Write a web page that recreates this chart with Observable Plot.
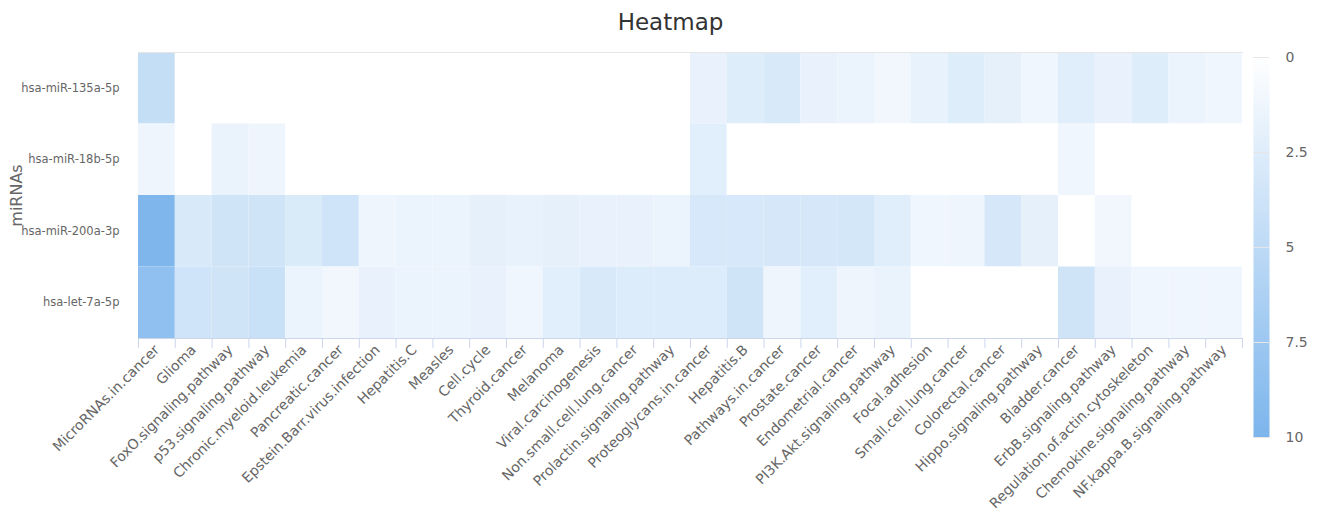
<!DOCTYPE html>
<html><head><meta charset="utf-8">
<script src="https://cdn.jsdelivr.net/npm/d3@7"></script>
<script src="https://cdn.jsdelivr.net/npm/@observablehq/plot@0.6"></script>
<style>
body{margin:0;background:#fff;font-family:"DejaVu Sans",sans-serif;}
#wrap{position:relative;width:1321px;height:523px;overflow:hidden;}
#title{position:absolute;top:9px;left:10px;width:1321px;text-align:center;font-size:23px;color:#333;}
#main{position:absolute;left:0;top:40px;}
#legend{position:absolute;left:1240px;top:40px;}
</style></head><body>
<div id="wrap"><div id="title">Heatmap</div><div id="main"></div><div id="legend"></div></div>
<script>
const pathways = ["MicroRNAs.in.cancer","Glioma","FoxO.signaling.pathway","p53.signaling.pathway","Chronic.myeloid.leukemia","Pancreatic.cancer","Epstein.Barr.virus.infection","Hepatitis.C","Measles","Cell.cycle","Thyroid.cancer","Melanoma","Viral.carcinogenesis","Non.small.cell.lung.cancer","Prolactin.signaling.pathway","Proteoglycans.in.cancer","Hepatitis.B","Pathways.in.cancer","Prostate.cancer","Endometrial.cancer","PI3K.Akt.signaling.pathway","Focal.adhesion","Small.cell.lung.cancer","Colorectal.cancer","Hippo.signaling.pathway","Bladder.cancer","ErbB.signaling.pathway","Regulation.of.actin.cytoskeleton","Chemokine.signaling.pathway","NF.kappa.B.signaling.pathway"];
const mirnas = ["hsa-miR-135a-5p","hsa-miR-18b-5p","hsa-miR-200a-3p","hsa-let-7a-5p"];
const v135a = [4.5,0,0,0,0,0,0,0,0,0,0,0,0,0,0,1.7,2.5,3.0,1.7,1.5,1.1,1.8,2.5,2.0,1.2,2.4,1.7,2.5,1.5,1.2];
const v18b  = [1.3,0,1.6,1.3,0,0,0,0,0,0,0,0,0,0,0,2.3,0,0,0,0,0,0,0,0,0,1.2,0,0,0,0];
const v200a = [9.8,3.0,3.6,3.6,2.9,3.7,1.3,1.5,1.5,2.0,1.8,2.0,1.7,1.7,1.5,3.1,3.1,3.2,3.2,3.3,2.4,1.2,1.3,3.2,2.0,0,1.1,0,0,0];
const vlet7a = [8.5,3.7,3.6,4.1,1.5,1.1,1.7,1.5,1.5,1.7,1.2,2.3,3.0,2.6,2.6,2.6,3.6,1.3,2.3,1.3,1.6,0,0,0,0,3.6,1.7,1.2,1.2,1.2];
const colorTicks = [0,2.5,5,7.5,10];

const series = [v135a, v18b, v200a, vlet7a];
const data = [];
mirnas.forEach((m,i)=>pathways.forEach((p,j)=>data.push({mirna:m, pathway:p, value:series[i][j]})));

const W=1245, H=480, mL=138, mR=3, mT=12, mB=182;
const cellW = (W-mL-mR)/pathways.length;
const color = {type:"linear", domain:[0,10], range:["#ffffff","#7cb5ec"], interpolate:"rgb"};

const main = Plot.plot({
  width:W, height:H, marginLeft:mL, marginRight:mR, marginTop:mT, marginBottom:mB,
  style:{fontFamily:"DejaVu Sans", color:"#666", background:"transparent"},
  x:{domain:pathways, padding:0, round:false, axis:null},
  y:{domain:mirnas, padding:0, round:false, axis:null},
  color,
  marks:[
    Plot.cell(data,{x:"pathway",y:"mirna",fill:"value"}),
    Plot.frame({anchor:"top", stroke:"#e6e6e6"}),
    Plot.axisX({tickSize:10, tickFormat:()=>"", dx:-cellW/2, stroke:"#ccd6eb", label:null}),
    Plot.axisX([pathways[pathways.length-1]], {tickSize:10, tickFormat:()=>"", dx:cellW/2, stroke:"#ccd6eb", label:null}),
    Plot.axisX({tickSize:0, tickPadding:9, tickRotate:-45, fontSize:14, fill:"#666", label:null}),
    Plot.axisY({tickSize:0, tickPadding:19, fontSize:11.5, fill:"#666", label:null}),
    Plot.frame({anchor:"bottom", stroke:"#ccd6eb"}),
    Plot.text(["miRNAs"], {frameAnchor:"left", textAnchor:"middle", rotate:-90, dx:-122, fontSize:16, fill:"#666"})
  ]
});
document.getElementById("main").appendChild(main);

const leg = Plot.plot({
  width:80, height:420, marginLeft:13, marginRight:51, marginTop:17, marginBottom:23,
  style:{fontFamily:"DejaVu Sans", color:"#666", background:"transparent"},
  x:{domain:[0,1], axis:null},
  y:{domain:[0,10], reverse:true, axis:null},
  color,
  marks:[
    Plot.raster({x1:0, x2:1, y1:0, y2:10, width:2, height:200, fill:(x,y)=>y, imageRendering:"auto"}),
    Plot.ruleY(colorTicks, {stroke:"#e6e6e6"}),
    Plot.axisY(colorTicks, {anchor:"right", tickSize:0, tickPadding:16, fontSize:14, fill:"#666", label:null, tickFormat:d=>String(d)})
  ]
});
document.getElementById("legend").appendChild(leg);
</script>
</body></html>
